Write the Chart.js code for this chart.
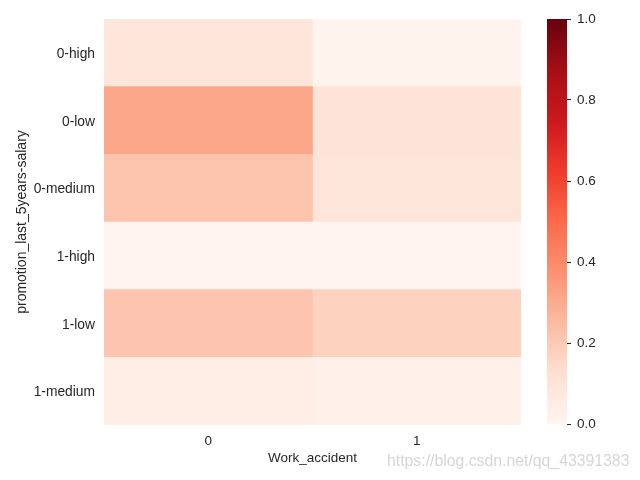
<!DOCTYPE html>
<html>
<head>
<meta charset="utf-8">
<script src="https://cdn.jsdelivr.net/npm/chart.js@4/dist/chart.umd.min.js"></script>
<style>
  html, body { margin: 0; padding: 0; background: #ffffff; }
  #wrap { position: relative; width: 640px; height: 480px; overflow: hidden; }
  canvas { position: absolute; left: 0; top: 0; }
  #wm { position: absolute; left: 387px; top: 452px; font-family: "Liberation Sans", Arial, sans-serif;
        font-size: 15.8px; color: #d6d6d6; white-space: nowrap; }
</style>
</head>
<body>
<div id="wrap">
  <canvas id="main" width="640" height="480"></canvas>
  <canvas id="cbar" width="640" height="480"></canvas>
  <div id="wm">https://blog.csdn.net/qq_43391383</div>
</div>
<script>
// ---- data ----
const rowLabels = ["0-high", "0-low", "0-medium", "1-high", "1-low", "1-medium"];
const colLabels = ["0", "1"];
const valuesCol0 = [0.09, 0.31, 0.22, 0.005, 0.215, 0.04];
const valuesCol1 = [0.012, 0.10, 0.095, 0.005, 0.17, 0.03];
const colorbarTicks = [0.0, 0.2, 0.4, 0.6, 0.8, 1.0];
const xTitle = "Work_accident";
const yTitle = "promotion_last_5years-salary";

// matplotlib "Reds" anchors
const reds = ["#fff5f0", "#fee0d2", "#fcbba1", "#fc9272", "#fb6a4a", "#ef3b2c", "#cb181d", "#a50f15", "#67000d"];
function hex2rgb(h) { return [parseInt(h.slice(1,3),16), parseInt(h.slice(3,5),16), parseInt(h.slice(5,7),16)]; }
function cmap(v) {
  v = Math.max(0, Math.min(1, v));
  const p = v * (reds.length - 1);
  const i = Math.min(Math.floor(p), reds.length - 2);
  const t = p - i;
  const a = hex2rgb(reds[i]), b = hex2rgb(reds[i+1]);
  const c = a.map((x, k) => Math.round(x + (b[k] - x) * t));
  return `rgb(${c[0]},${c[1]},${c[2]})`;
}

const FONT = "'Liberation Sans', Arial, sans-serif";
const TXT = "#262626";
Chart.defaults.font.family = FONT;
Chart.defaults.color = TXT;

new Chart(document.getElementById("main"), {
  type: "bar",
  data: {
    labels: rowLabels,
    datasets: [
      { data: rowLabels.map(() => [0, 1]), backgroundColor: valuesCol0.map(cmap) },
      { data: rowLabels.map(() => [1, 2]), backgroundColor: valuesCol1.map(cmap) }
    ]
  },
  options: {
    responsive: false,
    animation: false,
    indexAxis: "y",
    layout: { padding: { left: 0, right: 119, top: 19, bottom: 0 } },
    datasets: { bar: { grouped: false, barPercentage: 1, categoryPercentage: 1, borderWidth: 0 } },
    plugins: { legend: { display: false }, tooltip: { enabled: false } },
    scales: {
      x: {
        type: "linear", min: 0, max: 2,
        grid: { display: false, drawTicks: false }, border: { display: false },
        afterBuildTicks: (s) => { s.ticks = colLabels.map((_, i) => ({ value: i + 0.5 })); },
        afterFit: (s) => { s.height = 55; },
        ticks: { padding: 8, font: { size: 13.5 }, color: TXT, maxRotation: 0,
                 callback: (v) => colLabels[Math.floor(v)] },
        title: { display: true, text: xTitle, font: { size: 13.5 }, color: TXT, padding: { top: 0, bottom: 14 } }
      },
      y: {
        type: "category",
        grid: { display: false, drawTicks: false }, border: { display: false },
        afterFit: (s) => { s.width = 104; },
        ticks: { padding: 9, font: { size: 13.8 }, color: TXT, labelOffset: 1.5 },
        title: { display: true, text: yTitle, font: { size: 14 }, color: TXT, padding: { top: 14, bottom: 0 } }
      }
    }
  }
});

new Chart(document.getElementById("cbar"), {
  type: "bar",
  data: {
    labels: ["cb"],
    datasets: [{
      data: [[0, 1]],
      borderWidth: 0,
      backgroundColor: (ctx) => {
        const ca = ctx.chart.chartArea;
        if (!ca) return reds[0];
        const g = ctx.chart.ctx.createLinearGradient(0, ca.bottom, 0, ca.top);
        for (let k = 0; k <= 40; k++) g.addColorStop(k / 40, cmap(k / 40));
        return g;
      }
    }]
  },
  options: {
    responsive: false,
    animation: false,
    layout: { padding: { left: 547, right: 23, top: 19, bottom: 56 } },
    datasets: { bar: { barPercentage: 1, categoryPercentage: 1 } },
    plugins: { legend: { display: false }, tooltip: { enabled: false } },
    scales: {
      x: { display: false },
      y: {
        position: "right", type: "linear", min: 0, max: 1,
        afterBuildTicks: (s) => { s.ticks = colorbarTicks.map(v => ({ value: v })); },
        afterFit: (s) => { s.width = 50; },
        border: { display: false },
        grid: { drawOnChartArea: false, drawTicks: true, tickLength: 4, color: TXT, lineWidth: 1 },
        ticks: { padding: 6, font: { size: 13.5 }, color: TXT, callback: (v) => v.toFixed(1) }
      }
    }
  }
});
</script>
</body>
</html>
